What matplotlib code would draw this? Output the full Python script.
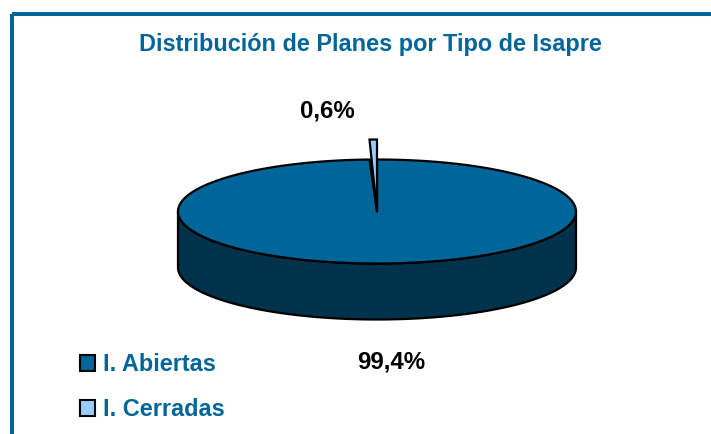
import numpy as np
import matplotlib
matplotlib.use("Agg")
import matplotlib.pyplot as plt
from matplotlib.patches import Patch, Polygon, Rectangle

plt.rcParams["font.family"] = ["Liberation Sans", "DejaVu Sans"]

# data
categories = ["I. Abiertas", "I. Cerradas"]
shares = [99.4, 0.6]
share_labels = ["99,4%", "0,6%"]
title = "Distribución de Planes por Tipo de Isapre"

BLUE = "#006699"
DARK = "#00324C"
LIGHT = "#99CCFF"
FS = 16.9

# pie geometry, in pixels of the picture
CX, CY = 377, 211.5
RX, RY = 199, 52
DEPTH = 56
LIFT = 20  # how far the small slice sticks out above the top


def rim(a0, a1, n=200):
    # angles in degrees, clockwise from 12 o'clock
    t = np.radians(np.linspace(a0, a1, n))
    return np.column_stack([CX + RX * np.sin(t), CY - RY * np.cos(t)])


fig = plt.figure(figsize=(7.11, 4.34), dpi=100)
ax = fig.add_axes([0, 0, 1, 1])
ax.set_xlim(0, 711)
ax.set_ylim(434, 0)
ax.axis("off")

# frame, only top and left fall inside the picture
ax.add_patch(Rectangle((11.5, 13.5), 760, 500, fill=False, ec=BLUE, lw=2.9))

ax.text(370.5, 44, title, color=BLUE, fontsize=FS, fontweight="bold", ha="center", va="center")

# side wall, front half of the rim pushed down
small_angle = 360 * shares[1] / sum(shares)
front = rim(90, 270)
wall = np.vstack([front, front[::-1] + [0, DEPTH]])
ax.add_patch(Polygon(wall, fc=DARK, ec="black", lw=1.6, joinstyle="round"))

# big slice
big = np.vstack([[CX, CY], rim(0, 360 - small_angle)])
ax.add_patch(Polygon(big, fc=BLUE, ec="black", lw=1.6, joinstyle="round"))

# small slice, raised above the top of the pie
edge = rim(360 - small_angle, 360, 10)
side = np.array([[CX, CY], edge[0], [edge[0][0] + 2.5, edge[0][1]]])
ax.add_patch(Polygon(side, fc="black", ec="black", lw=1))
raised = edge - [0, LIFT]
ax.add_patch(Polygon(np.vstack([[CX, CY], raised]), fc=LIGHT, ec="black", lw=1.6, joinstyle="miter"))

ax.text(327, 111, share_labels[1], fontsize=17.3, fontweight="bold", ha="center", va="center")
ax.text(391.5, 362, share_labels[0], fontsize=17.3, fontweight="bold", ha="center", va="center")

handles = [Patch(fc=BLUE, ec="black", lw=1.5), Patch(fc=LIGHT, ec="black", lw=1.5)]
leg = ax.legend(handles, categories, loc="upper left", bbox_to_anchor=(80 / 711, 1 - 353 / 434),
                frameon=False, borderpad=0, borderaxespad=0, handlelength=0.64, handleheight=0.64,
                handletextpad=0.36, labelspacing=0.95, prop={"size": FS, "weight": "bold"})
for t in leg.get_texts():
    t.set_color(BLUE)

fig.savefig("out.png", dpi=100)
